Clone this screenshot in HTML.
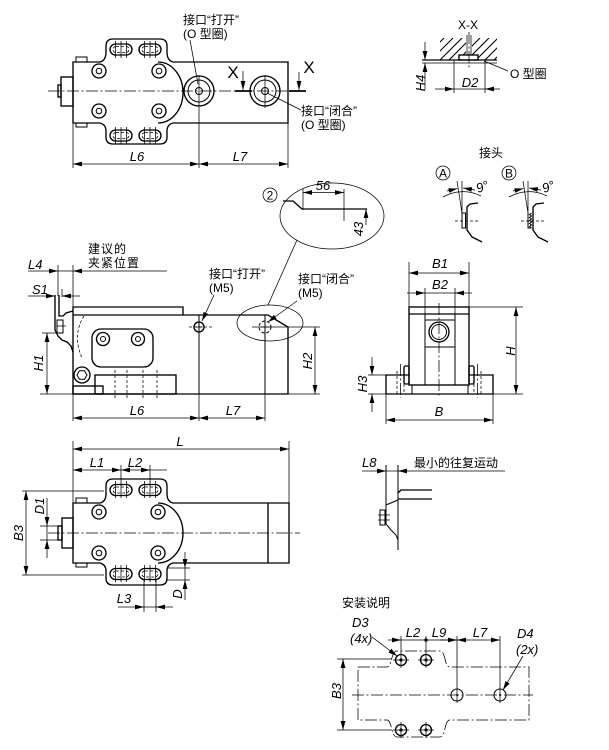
<!DOCTYPE html>
<html><head><meta charset="utf-8"><style>
html,body{margin:0;padding:0;background:#fff;}
svg{display:block}
.t{stroke:#000;stroke-width:1.35;fill:none}
.m{stroke:#000;stroke-width:1;fill:none}
.n{stroke:#000;stroke-width:0.75;fill:none}
.cl{stroke-dasharray:12 2.5 2 2.5}
.hd{stroke-dasharray:3 2}
text{font-family:"Liberation Sans","Noto Sans CJK SC",sans-serif;fill:#000}
.d{font-style:italic;font-size:13px}
.c{font-size:12px}
</style></head><body>
<svg width="609" height="750" viewBox="0 0 609 750" xmlns="http://www.w3.org/2000/svg">
<defs>
<marker id="a" viewBox="0 0 9 6" refX="9" refY="3" markerWidth="9" markerHeight="6" markerUnits="userSpaceOnUse" orient="auto-start-reverse"><path d="M0,0.6L9,3L0,5.4z" fill="#000"/></marker>
<clipPath id="hc"><path d="M440,38H466V55H459V60H440Z M472,38H497V60H478V55H472Z"/></clipPath>
</defs>

<!-- ================= TOP VIEW ================= -->
<path class="t" d="M73,62 L100,62 C104,61 106,58 106,52 L106,46 Q106,39 113,39 L160,39 Q167,39 167,46 L167,52 C167,58 169,61 173,62 L288,62 L288,123 L173,123 C169,124 167,127 167,131 L167,137 Q167,144 160,144 L113,144 Q106,144 106,137 L106,131 C106,127 104,124 100,123 L73,123 Z"/>
<rect class="t" x="61" y="77" width="12" height="29"/>
<rect class="t" x="58" y="85" width="3" height="12"/>
<rect class="m" x="76" y="57" width="11" height="5"/>
<rect class="m" x="76" y="123" width="11" height="4"/>
<path class="t" d="M158,62 A25,30.5 0 0 1 158,123"/>
<g class="t">
<rect x="110" y="44" width="22" height="11" rx="5.5"/><rect x="139" y="44" width="22" height="11" rx="5.5"/>
<rect x="110" y="130" width="22" height="11" rx="5.5"/><rect x="139" y="130" width="22" height="11" rx="5.5"/>
</g>
<g class="n hd">
<rect x="113" y="46.5" width="16" height="6" rx="3"/><rect x="142" y="46.5" width="16" height="6" rx="3"/>
<rect x="113" y="132.5" width="16" height="6" rx="3"/><rect x="142" y="132.5" width="16" height="6" rx="3"/>
</g>
<path class="n" d="M115.5,41V58M121,41V58M126.5,41V58M144.5,41V58M150,41V58M155.5,41V58M115.5,127V144M121,127V144M126.5,127V144M144.5,127V144M150,127V144M155.5,127V144"/>
<g class="t"><circle cx="99" cy="71" r="7"/><circle cx="159" cy="71" r="7"/><circle cx="99" cy="111" r="7"/><circle cx="159" cy="111" r="7"/></g>
<g class="m"><circle cx="99" cy="71" r="2.8"/><circle cx="159" cy="71" r="2.8"/><circle cx="99" cy="111" r="2.8"/><circle cx="159" cy="111" r="2.8"/></g>
<g class="t"><circle cx="199" cy="91" r="15"/><circle cx="265" cy="91" r="15"/></g>
<g class="m"><circle cx="199" cy="91" r="11"/><circle cx="199" cy="91" r="3.5"/><circle cx="265" cy="91" r="11"/><circle cx="265" cy="91" r="3.5"/></g>
<path class="n cl" d="M48,91H288"/>
<path class="n" d="M199,75V168 M265,75V108"/>
<path stroke="#000" stroke-width="1.8" d="M235,91H252 M289,91H306"/>
<path class="n" d="M243,71V90" marker-end="url(#a)"/>
<path class="n" d="M299,72V90" marker-end="url(#a)"/>
<text x="233" y="78" font-size="17" text-anchor="middle">X</text>
<text x="309" y="73" font-size="17" text-anchor="middle">X</text>
<text class="c" x="183" y="24">接口“打开”</text>
<text class="c" x="183" y="38">(O 型圈)</text>
<path class="n" d="M190,40L198,84"/>
<text class="c" x="301" y="115">接口“闭合”</text>
<text class="c" x="301" y="129">(O 型圈)</text>
<path class="n" d="M267,93L301,110"/>
<path class="n" d="M73,123V168 M288,123V168"/>
<path class="n" d="M73,164H199" marker-start="url(#a)" marker-end="url(#a)"/>
<path class="n" d="M199,164H288" marker-start="url(#a)" marker-end="url(#a)"/>
<text class="d" x="137" y="161" text-anchor="middle">L6</text>
<text class="d" x="240" y="161" text-anchor="middle">L7</text>

<!-- ================= X-X SECTION ================= -->
<text x="468" y="29" font-size="12" text-anchor="middle">X-X</text>
<g stroke="#000" stroke-width="1.1" fill="none" clip-path="url(#hc)">
<path d="M420,62L444,38M429,62L453,38M438,62L462,38M447,62L471,38M456,62L480,38M465,62L489,38M474,62L498,38M483,62L507,38M492,62L516,38"/>
</g>
<path class="t" d="M422,60H497"/>
<path class="n" d="M422,63H497"/>
<rect class="t" x="459" y="55" width="19" height="5"/>
<path class="n" d="M467,35V55 M471,35V55"/>
<path class="n cl" d="M469,32V70"/>
<path class="n" d="M425,42V60" marker-end="url(#a)"/>
<path class="n" d="M425,90V63" marker-end="url(#a)"/>
<text class="d" transform="translate(425,83) rotate(-90)" text-anchor="middle">H4</text>
<path class="n" d="M454,60V93 M485,60V93"/>
<path class="n" d="M435,89H454" marker-end="url(#a)"/>
<path class="n" d="M500,89H485" marker-end="url(#a)"/>
<path class="n" d="M454,89H485"/>
<text class="d" x="470" y="87" text-anchor="middle">D2</text>
<path class="n" d="M484,61L508,71"/>
<text class="c" x="510" y="78">O 型圈</text>

<!-- ================= 接头 ================= -->
<text class="c" x="479" y="157">接头</text>
<g>
<circle class="n" cx="443" cy="173" r="7"/>
<text x="443" y="177.5" font-size="12" text-anchor="middle">A</text>
<path class="n" d="M443,197 A40,40 0 0 1 481,196"/>
<path class="n" d="M447,191L457.5,188.5" marker-end="url(#a)"/>
<path class="n" d="M475,190L463,188" marker-end="url(#a)"/>
<path class="n" d="M457,181L462,213 M462,181V213"/>
<rect class="m" x="462" y="213" width="3.5" height="15"/>
<path class="t" d="M478,203L470,204L467,207V230L472,237L482,242"/>
<path class="n hd" d="M455,221H478"/>
<text class="d" transform="translate(478,193) rotate(-20)">9°</text>
</g>
<g transform="translate(66,0)">
<circle class="n" cx="443" cy="173" r="7"/>
<text x="443" y="177.5" font-size="12" text-anchor="middle">B</text>
<path class="n" d="M443,197 A40,40 0 0 1 481,196"/>
<path class="n" d="M447,191L457.5,188.5" marker-end="url(#a)"/>
<path class="n" d="M475,190L463,188" marker-end="url(#a)"/>
<path class="n" d="M457,181L462,213 M462,181V213"/>
<path class="m" d="M462,213V228H465.5 M465.5,213l-2,1.5l2,1.5l-2,1.5l2,1.5l-2,1.5l2,1.5l-2,1.5l2,1.5l-2,1.5l2,1.5"/>
<path class="t" d="M478,203L470,204L467,207V230L472,237L482,242"/>
<path class="n hd" d="M455,221H478"/>
<text class="d" transform="translate(478,193) rotate(-20)">9°</text>
</g>

<!-- ================= SIDE VIEW ================= -->
<circle class="n" cx="270" cy="195" r="7"/>
<text x="270" y="199.5" font-size="12" text-anchor="middle">2</text>
<ellipse class="n" cx="332" cy="216" rx="52" ry="33"/>
<path class="t" d="M283,201H293L302,209H367" stroke-width="1.6"/>
<path class="n" d="M303,189V210 M344,189V221"/>
<path class="n" d="M303,192.5H344" marker-start="url(#a)" marker-end="url(#a)"/>
<text class="d" x="323" y="190" text-anchor="middle">56</text>
<path class="n" d="M366,225V209" marker-end="url(#a)"/>
<text class="d" transform="translate(363,229) rotate(-90)" text-anchor="middle">43</text>
<path class="n" d="M297,240L268,305"/>
<ellipse class="n" cx="270" cy="323" rx="33" ry="18"/>

<path class="t" d="M73,394V307H183V315"/>
<path class="t" d="M73,315H268L288,327V394H73"/>
<path class="n" d="M40,394H73 M288,394H320"/>
<path class="m" d="M199,315V394 M265,315V394"/>
<path class="n" d="M73,394V421 M199,394V421 M265,394V421"/>
<path class="n" d="M73,418H199" marker-start="url(#a)" marker-end="url(#a)"/>
<path class="n" d="M199,418H265" marker-start="url(#a)" marker-end="url(#a)"/>
<text class="d" x="137" y="415" text-anchor="middle">L6</text>
<text class="d" x="233" y="415" text-anchor="middle">L7</text>

<circle class="t" cx="199" cy="327" r="5"/>
<path class="n" d="M199,323.5V330.5 M195.5,327H202.5"/>
<path class="n hd" d="M189,327H214"/>
<circle class="m hd" cx="265" cy="327" r="6"/>
<path class="n" d="M265,323V331 M261,327H269"/>
<path class="n" d="M252,327H320"/>

<rect class="t" x="92" y="329" width="61" height="38" rx="9"/>
<circle class="t" cx="103" cy="339" r="6.5"/><circle class="m" cx="103" cy="339" r="2.5"/>
<circle class="t" cx="138" cy="339" r="6.5"/><circle class="m" cx="138" cy="339" r="2.5"/>
<circle class="t" cx="82" cy="375" r="8"/>
<polygon class="m" points="87,375 84.5,379.3 79.5,379.3 77,375 79.5,370.7 84.5,370.7"/>
<rect class="t" x="73" y="386" width="30" height="8"/>
<rect class="t" x="95" y="375" width="81" height="19"/>
<path class="n hd" d="M115,370V400 M127,370V400 M143,370V400 M157,370V400"/>

<path class="t" d="M55,295V330L58,336L62,340L67,342L71,346L73,352"/>
<path class="t" d="M59,295V316H63L66,313L73,311"/>
<rect class="m" x="57" y="320" width="6" height="13"/>
<path class="n" d="M57,326H66"/>
<path class="n hd" d="M84,316Q72,335 82,358"/>

<path class="n" d="M42,333H62"/>
<path class="n" d="M47,333V394" marker-start="url(#a)" marker-end="url(#a)"/>
<text class="d" transform="translate(43,363) rotate(-90)" text-anchor="middle">H1</text>
<path class="n" d="M315,327V394" marker-start="url(#a)" marker-end="url(#a)"/>
<text class="d" transform="translate(312,361) rotate(-90)" text-anchor="middle">H2</text>

<text class="c" x="88" y="253" letter-spacing="1">建议的</text>
<text class="c" x="88" y="267" letter-spacing="1">夹紧位置</text>
<path class="n" d="M58,265V296 M73,265V307"/>
<path class="n" d="M28,271H58" marker-end="url(#a)"/>
<path class="n" d="M167,271H73" marker-end="url(#a)"/>
<path class="n" d="M58,271H73"/>
<text class="d" x="28" y="269">L4</text>
<path class="n" d="M62,289V297"/>
<path class="n" d="M28,296H55" marker-end="url(#a)"/>
<path class="n" d="M80,296H62" marker-end="url(#a)"/>
<text class="d" x="32" y="294">S1</text>

<text class="c" x="209" y="278">接口“打开”</text>
<text class="c" x="209" y="292">(M5)</text>
<path class="n" d="M214,295L202,321" marker-end="url(#a)"/>
<text class="c" x="298" y="283">接口“闭合”</text>
<text class="c" x="298" y="297">(M5)</text>
<path class="n" d="M297,301L268,322" marker-end="url(#a)"/>

<!-- ================= FRONT VIEW ================= -->
<path class="n" d="M409,262V307 M469,262V307"/>
<path class="n" d="M409,273H469" marker-start="url(#a)" marker-end="url(#a)"/>
<text class="d" x="440" y="268" text-anchor="middle">B1</text>
<path class="n" d="M425,288V314 M455,288V314"/>
<path class="n" d="M407,293H425" marker-end="url(#a)"/>
<path class="n" d="M472,293H455" marker-end="url(#a)"/>
<path class="n" d="M425,293H455"/>
<text class="d" x="440" y="289" text-anchor="middle">B2</text>
<rect class="t" x="409" y="307" width="60" height="78"/>
<path class="t" d="M409,314H469"/>
<path class="m" d="M425,314V385 M455,314V385 M425,320H455 M425,347H455"/>
<circle class="t" cx="439" cy="332" r="10"/>
<circle class="m" cx="439" cy="332" r="7.5"/>
<path class="n cl" d="M439,303V398"/>
<path class="t" d="M386,394V375H409 M469,375H493V394 M386,394H493"/>
<rect class="m" x="412" y="385" width="56" height="9"/>
<rect class="t" x="404" y="366" width="5" height="18" rx="1.5"/>
<rect class="t" x="469" y="366" width="5" height="18" rx="1.5"/>
<path class="n hd" d="M397,371V394 M404,384V394 M474,384V394 M481,371V394"/>
<path class="n cl" d="M400.5,364V398 M477.5,364V398"/>
<path class="n" d="M368,394H386 M493,394H523 M469,307H523 M368,375H386"/>
<path class="n" d="M516,307V394" marker-start="url(#a)" marker-end="url(#a)"/>
<text class="d" transform="translate(515,351) rotate(-90)" text-anchor="middle">H</text>
<path class="n" d="M372,357V375" marker-end="url(#a)"/>
<path class="n" d="M372,412V394" marker-end="url(#a)"/>
<text class="d" transform="translate(367,384) rotate(-90)" text-anchor="middle">H3</text>
<path class="n" d="M386,394V424 M493,394V424"/>
<path class="n" d="M386,420H493" marker-start="url(#a)" marker-end="url(#a)"/>
<text class="d" x="439" y="416" text-anchor="middle">B</text>

<!-- ================= BOTTOM VIEW ================= -->
<path class="t" d="M73,503 L100,503 C104,502 106,499 106,494 L106,486 Q106,479 113,479 L160,479 Q167,479 167,486 L167,494 C167,499 169,502 173,503 L289,503 L289,563 L173,563 C169,564 167,567 167,571 L167,578 Q167,585 160,585 L113,585 Q106,585 106,578 L106,571 C106,567 104,564 100,563 L73,563 Z"/>
<path class="t" d="M268,503V563"/>
<rect class="t" x="62" y="518" width="11" height="30"/>
<rect class="t" x="58" y="526" width="4" height="14"/>
<rect class="m" x="76" y="498" width="11" height="5"/>
<rect class="m" x="76" y="563" width="11" height="4"/>
<path class="t" d="M158,503 A25,30 0 0 1 158,563"/>
<g class="t">
<rect x="110" y="484.5" width="22" height="11" rx="5.5"/><rect x="139" y="484.5" width="22" height="11" rx="5.5"/>
<rect x="110" y="568.5" width="22" height="11" rx="5.5"/><rect x="139" y="568.5" width="22" height="11" rx="5.5"/>
</g>
<g class="n hd">
<rect x="113" y="487" width="16" height="6" rx="3"/><rect x="142" y="487" width="16" height="6" rx="3"/>
<rect x="113" y="571" width="16" height="6" rx="3"/><rect x="142" y="571" width="16" height="6" rx="3"/>
</g>
<path class="n" d="M115.5,481V498M126.5,481V498M144.5,481V498M155.5,481V498M121,465V498M150,465V498M115.5,565V582M121,565V582M126.5,565V582M144.5,565V582M150,565V582M155.5,565V582"/>
<g class="t"><circle cx="99" cy="512" r="7"/><circle cx="158" cy="512" r="7"/><circle cx="99" cy="553" r="7"/><circle cx="158" cy="553" r="7"/></g>
<g class="m"><circle cx="99" cy="512" r="2.8"/><circle cx="158" cy="512" r="2.8"/><circle cx="99" cy="553" r="2.8"/><circle cx="158" cy="553" r="2.8"/></g>
<path class="n cl" d="M48,533H300"/>
<path class="n" d="M73,441V503 M289,441V503"/>
<path class="n" d="M73,449H289" marker-start="url(#a)" marker-end="url(#a)"/>
<text class="d" x="180" y="446" text-anchor="middle">L</text>
<path class="n" d="M73,470H121" marker-start="url(#a)" marker-end="url(#a)"/>
<path class="n" d="M121,470H150" marker-start="url(#a)" marker-end="url(#a)"/>
<path class="n" d="M150,470H167"/>
<text class="d" x="97" y="467" text-anchor="middle">L1</text>
<text class="d" x="135" y="467" text-anchor="middle">L2</text>
<path class="n" d="M22,491H104 M22,575H104"/>
<path class="n" d="M26,491V575" marker-start="url(#a)" marker-end="url(#a)"/>
<text class="d" transform="translate(23,533) rotate(-90)" text-anchor="middle">B3</text>
<path class="n" d="M40,526H62 M40,540H62"/>
<path class="n" d="M47,498V526" marker-end="url(#a)"/>
<path class="n" d="M47,558V540" marker-end="url(#a)"/>
<path class="n" d="M47,526V540"/>
<text class="d" transform="translate(44,506) rotate(-90)" text-anchor="middle">D1</text>
<path class="n" d="M167,568H190 M167,580H190"/>
<path class="n" d="M185,552V568" marker-end="url(#a)"/>
<path class="n" d="M185,600V580" marker-end="url(#a)"/>
<path class="n" d="M185,568V580"/>
<text class="d" transform="translate(182,594) rotate(-90)" text-anchor="middle">D</text>
<path class="n" d="M144,580V612 M156,580V612"/>
<path class="n" d="M118,607H144" marker-end="url(#a)"/>
<path class="n" d="M173,607H156" marker-end="url(#a)"/>
<path class="n" d="M144,607H156"/>
<text class="d" x="124" y="603" text-anchor="middle">L3</text>

<!-- ================= L8 DETAIL ================= -->
<text class="d" x="362" y="467">L8</text>
<path class="n" d="M362,471H386" marker-end="url(#a)"/>
<path class="n" d="M505,471H398" marker-end="url(#a)"/>
<path class="n" d="M386,471H398"/>
<text class="c" x="414" y="467">最小的往复运动</text>
<path class="m" d="M398,465V550 M386,465V524L391,530L396,535L398,540"/>
<path class="t" d="M398,493L401,490H432 M398,499H432"/>
<path class="m" d="M398,500L386,505"/>
<rect class="m" x="380" y="510" width="5" height="15"/>
<path class="n" d="M378,515H390 M378,520H390"/>

<!-- ================= INSTALLATION ================= -->
<text class="c" x="342" y="607">安装说明</text>
<text class="d" x="352" y="627">D3</text>
<text class="d" x="350" y="643">(4x)</text>
<path class="n" d="M372,637L397,656" marker-end="url(#a)"/>
<text class="d" x="517" y="638">D4</text>
<text class="d" x="516" y="654">(2x)</text>
<path class="n" d="M523,656L503,690" marker-end="url(#a)"/>
<path class="n" d="M388,640H401" marker-end="url(#a)"/>
<path class="n" d="M401,640H426 M426,640H457" />
<path class="n" d="M440,640H457" marker-end="url(#a)"/>
<path class="n" d="M457,640H500" marker-start="url(#a)" marker-end="url(#a)"/>
<circle cx="426" cy="640" r="1.8" fill="#000"/>
<text class="d" x="413" y="637" text-anchor="middle">L2</text>
<text class="d" x="439" y="637" text-anchor="middle">L9</text>
<text class="d" x="480" y="637" text-anchor="middle">L7</text>
<path class="n" d="M401,636V668 M426,636V668 M457,636V703 M500,636V703"/>
<path class="n cl" d="M358,667 L387,667 C392,667 391,651 397,651 L440,651 C446,651 444,667 450,667 L529,667 L529,720 L450,720 C444,720 446,737 440,737 L397,737 C391,737 392,720 387,720 L358,720 Z"/>
<path class="n cl" d="M352,695H533"/>
<g class="t"><circle cx="401" cy="660" r="5.5"/><circle cx="426" cy="660" r="5.5"/><circle cx="401" cy="730" r="5.5"/><circle cx="426" cy="730" r="5.5"/></g>
<g fill="#000"><circle cx="401" cy="660" r="1.6"/><circle cx="426" cy="660" r="1.6"/><circle cx="401" cy="730" r="1.6"/><circle cx="426" cy="730" r="1.6"/></g>
<path class="n" d="M393,660H409 M418,660H434 M393,730H409 M418,730H434 M401,722V738 M426,722V738"/>
<g class="m"><circle cx="457" cy="695" r="6"/><circle cx="500" cy="695" r="6"/></g>
<circle cx="457" cy="695" r="1" fill="#000"/><circle cx="500" cy="695" r="1" fill="#000"/>
<path class="n" d="M337,659H392 M337,730H392"/>
<path class="n" d="M343,659V730" marker-start="url(#a)" marker-end="url(#a)"/>
<text class="d" transform="translate(341,691) rotate(-90)" text-anchor="middle">B3</text>
</svg>
</body></html>
